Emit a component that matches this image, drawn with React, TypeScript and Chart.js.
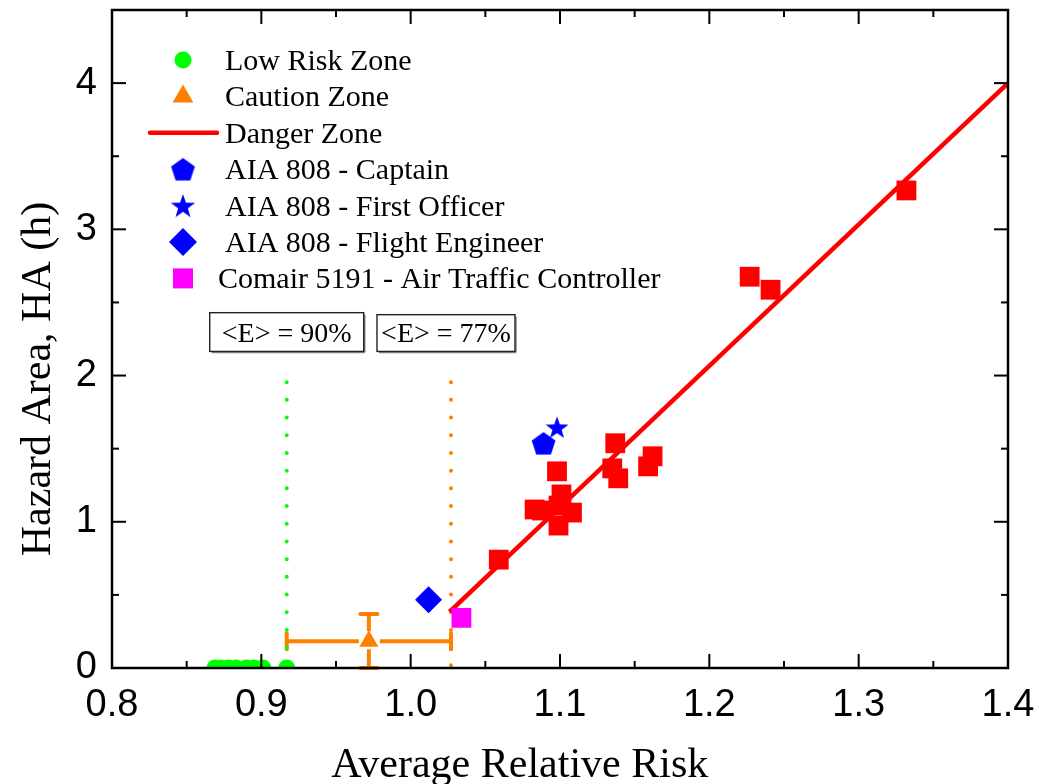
import React, { useEffect, useRef } from 'react';
import { Chart, registerables } from 'chart.js';

Chart.register(...registerables);

// ---------------- data ----------------
const lowRiskX = [0.869, 0.873, 0.878, 0.883, 0.89, 0.895, 0.901, 0.917];
const lowRiskY = [0, 0, 0, 0, 0, 0, 0, 0];

const cautionX = [0.972];
const cautionY = [0.183];
const cautionXLow = [0.917];
const cautionXHigh = [1.027];
const cautionYLow = [0];
const cautionYHigh = [0.37];

const dangerX = [1.059, 1.083, 1.088, 1.098, 1.099, 1.099, 1.101, 1.108, 1.135, 1.137, 1.139, 1.159, 1.162, 1.227, 1.241, 1.332];
const dangerY = [0.741, 1.084, 1.077, 1.345, 1.111, 0.974, 1.187, 1.063, 1.365, 1.537, 1.297, 1.379, 1.448, 2.676, 2.587, 3.266];

const dangerFitX = [1.026, 1.4];
const dangerFitY = [0.384, 4.0];

const captainX = [1.089];
const captainY = [1.537];
const firstOfficerX = [1.098];
const firstOfficerY = [1.647];
const flightEngineerX = [1.012];
const flightEngineerY = [0.467];
const atcX = [1.034];
const atcY = [0.343];

const thresholdX = [0.917, 1.027];
const thresholdTop = [1.955, 1.955];
const thresholdLabels = ['<E> = 90%', '<E> = 77%'];

const xTicks = [0.8, 0.9, 1.0, 1.1, 1.2, 1.3, 1.4];
const xMinorTicks = [0.85, 0.95, 1.05, 1.15, 1.25, 1.35];
const yTicks = [0, 1, 2, 3, 4];
const yMinorTicks = [0.5, 1.5, 2.5, 3.5];

const legendLabels = [
  'Low Risk Zone',
  'Caution Zone',
  'Danger Zone',
  'AIA 808 - Captain',
  'AIA 808 - First Officer',
  'AIA 808 - Flight Engineer',
  'Comair 5191 - Air Traffic Controller',
];
const xTitle = 'Average Relative Risk';
const yTitle = 'Hazard Area, HA (h)';

// ---------------- styles ----------------
const GREEN = '#00FF00';
const ORANGE = '#FF7F00';
const RED = '#FF0000';
const BLUE = '#0000FF';
const MAGENTA = '#FF00FF';
const SERIF = '"Liberation Serif", "Times New Roman", serif';
const SANS = '"Liberation Sans", Arial, sans-serif';

const pts = (xs: number[], ys: number[]) => xs.map((x, i) => ({ x, y: ys[i] }));

function makeStarPoly(R: number, inner: number, n: number, color: string): HTMLCanvasElement {
  const size = Math.ceil(2 * R + 4);
  const c = document.createElement('canvas');
  c.width = size;
  c.height = size;
  const g = c.getContext('2d')!;
  const cx = size / 2;
  const cy = size / 2 + 0.0955 * R;
  g.fillStyle = color;
  g.beginPath();
  const steps = inner > 0 ? n * 2 : n;
  for (let k = 0; k < steps; k++) {
    const r = inner > 0 && k % 2 === 1 ? inner : R;
    const ang = -Math.PI / 2 + (k * 2 * Math.PI) / steps;
    const x = cx + r * Math.cos(ang);
    const y = cy + r * Math.sin(ang);
    if (k === 0) g.moveTo(x, y);
    else g.lineTo(x, y);
  }
  g.closePath();
  g.fill();
  return c;
}

function line(ctx: CanvasRenderingContext2D, x1: number, y1: number, x2: number, y2: number) {
  ctx.beginPath();
  ctx.moveTo(x1, y1);
  ctx.lineTo(x2, y2);
  ctx.stroke();
}

export default function App() {
  const ref = useRef<HTMLCanvasElement>(null);

  useEffect(() => {
    const canvas = ref.current!;
    const pentagon = makeStarPoly(12.5, 0, 5, BLUE);
    const starPlot = makeStarPoly(12, 4.8, 5, BLUE);
    const starLegend = makeStarPoly(12.8, 5.1, 5, BLUE);

    const decor = {
      id: 'decor',
      beforeDatasetsDraw(chart: any) {
        const { ctx, scales } = chart;
        const xs = scales.x;
        const ys = scales.y;
        ctx.save();
        ctx.strokeStyle = ORANGE;
        ctx.lineWidth = 4;
        for (let i = 0; i < cautionX.length; i++) {
          const px = xs.getPixelForValue(cautionX[i]);
          const py = ys.getPixelForValue(cautionY[i]);
          const xl = xs.getPixelForValue(cautionXLow[i]);
          const xh = xs.getPixelForValue(cautionXHigh[i]);
          const yl = ys.getPixelForValue(cautionYLow[i]);
          const yh = ys.getPixelForValue(cautionYHigh[i]);
          ctx.lineCap = 'butt';
          line(ctx, xl, py, px - 10, py);
          line(ctx, px + 11, py, xh, py);
          line(ctx, px, yh, px, py - 10);
          line(ctx, px, py + 8, px, yl);
          ctx.lineCap = 'round';
          line(ctx, xl, py - 8, xl, py + 8);
          line(ctx, xh, py - 8, xh, py + 8);
          line(ctx, px - 8.5, yh, px + 8.5, yh);
          line(ctx, px - 8.5, yl, px + 8.5, yl);
        }
        ctx.restore();
      },
      afterDatasetsDraw(chart: any) {
        const { ctx, chartArea: a, scales } = chart;
        const xs = scales.x;
        const ys = scales.y;
        ctx.save();
        // frame
        ctx.strokeStyle = '#000';
        ctx.lineWidth = 2.5;
        ctx.lineJoin = 'miter';
        ctx.strokeRect(a.left, a.top, a.right - a.left, a.bottom - a.top);
        ctx.lineWidth = 2;
        const major = 14;
        const minor = 7;
        for (const v of xTicks) {
          const p = xs.getPixelForValue(v);
          line(ctx, p, a.bottom, p, a.bottom - major);
          line(ctx, p, a.top, p, a.top + major);
        }
        for (const v of xMinorTicks) {
          const p = xs.getPixelForValue(v);
          line(ctx, p, a.bottom, p, a.bottom - minor);
          line(ctx, p, a.top, p, a.top + minor);
        }
        for (const v of yTicks) {
          const p = ys.getPixelForValue(v);
          line(ctx, a.left, p, a.left + major, p);
          line(ctx, a.right, p, a.right - major, p);
        }
        for (const v of yMinorTicks) {
          const p = ys.getPixelForValue(v);
          line(ctx, a.left, p, a.left + minor, p);
          line(ctx, a.right, p, a.right - minor, p);
        }

        // annotation boxes
        const boxW = [154, 138];
        const boxDx = [0, -5];
        ctx.font = `28px ${SERIF}`;
        ctx.textAlign = 'center';
        ctx.textBaseline = 'alphabetic';
        for (let i = 0; i < thresholdX.length; i++) {
          const cx = xs.getPixelForValue(thresholdX[i]) + boxDx[i];
          const top = ys.getPixelForValue(2.43) + (i === 1 ? 2 : 0);
          const bottom = ys.getPixelForValue(2.165);
          const left = cx - boxW[i] / 2;
          ctx.fillStyle = '#fff';
          ctx.fillRect(left, top, boxW[i], bottom - top);
          ctx.strokeStyle = '#888';
          ctx.lineWidth = 1.5;
          line(ctx, left + 2, bottom + 1, left + boxW[i] + 1, bottom + 1);
          line(ctx, left + boxW[i] + 1, top + 2, left + boxW[i] + 1, bottom + 1);
          ctx.strokeStyle = '#222';
          ctx.lineWidth = 1.4;
          ctx.strokeRect(left, top, boxW[i], bottom - top);
          ctx.fillStyle = '#000';
          ctx.fillText(thresholdLabels[i], cx, bottom - 9);
        }

        // legend
        const rowY = (i: number) => a.top + 50 + i * 36.4;
        const mx = a.left + 71;
        ctx.font = `30px ${SERIF}`;
        ctx.textAlign = 'left';
        for (let i = 0; i < legendLabels.length; i++) {
          const y = rowY(i);
          if (i === 0) {
            ctx.fillStyle = GREEN;
            ctx.beginPath();
            ctx.arc(mx, y, 8.5, 0, Math.PI * 2);
            ctx.fill();
          } else if (i === 1) {
            const r = 12;
            ctx.fillStyle = ORANGE;
            ctx.beginPath();
            ctx.moveTo(mx, y - r);
            ctx.lineTo(mx + 0.866 * r, y + r / 2);
            ctx.lineTo(mx - 0.866 * r, y + r / 2);
            ctx.closePath();
            ctx.fill();
          } else if (i === 2) {
            ctx.strokeStyle = RED;
            ctx.lineWidth = 4.5;
            ctx.lineCap = 'round';
            line(ctx, a.left + 38, y, a.left + 105, y);
            ctx.lineCap = 'butt';
          } else if (i === 3) {
            ctx.drawImage(pentagon, mx - pentagon.width / 2, y - pentagon.height / 2);
          } else if (i === 4) {
            ctx.drawImage(starLegend, mx - starLegend.width / 2, y - starLegend.height / 2);
          } else if (i === 5) {
            const r = 14;
            ctx.fillStyle = BLUE;
            ctx.beginPath();
            ctx.moveTo(mx - r, y);
            ctx.lineTo(mx, y - r);
            ctx.lineTo(mx + r, y);
            ctx.lineTo(mx, y + r);
            ctx.closePath();
            ctx.fill();
          } else {
            ctx.fillStyle = MAGENTA;
            ctx.fillRect(mx - 10, y - 10, 20, 20);
          }
          ctx.fillStyle = '#000';
          ctx.fillText(legendLabels[i], i === 6 ? a.left + 106 : a.left + 113, y + 10);
        }

        // axis titles
        ctx.font = `42px ${SERIF}`;
        ctx.textAlign = 'center';
        ctx.textBaseline = 'alphabetic';
        ctx.fillStyle = '#000';
        ctx.fillText(xTitle, a.left + (a.right - a.left) * 0.455, a.bottom + 109);
        ctx.translate(a.left - 62, (a.top + a.bottom) / 2 + 40);
        ctx.rotate(-Math.PI / 2);
        ctx.fillText(yTitle, 0, 0);
        ctx.restore();
      },
    };

    const markerBase = { showLine: false, pointBorderWidth: 0, pointHoverRadius: 0 };

    const chart = new Chart(canvas, {
      type: 'scatter',
      data: {
        datasets: [
          { ...markerBase, label: 'ATC', data: pts(atcX, atcY), pointStyle: 'rect', pointRadius: 14, backgroundColor: MAGENTA, borderColor: MAGENTA },
          { ...markerBase, label: 'FE', data: pts(flightEngineerX, flightEngineerY), pointStyle: 'rectRot', pointRadius: 13.5, backgroundColor: BLUE, borderColor: BLUE },
          { ...markerBase, label: 'FO', data: pts(firstOfficerX, firstOfficerY), pointStyle: starPlot, pointRadius: 12, backgroundColor: BLUE, borderColor: BLUE },
          { ...markerBase, label: 'Captain', data: pts(captainX, captainY), pointStyle: pentagon, pointRadius: 12, backgroundColor: BLUE, borderColor: BLUE },
          { ...markerBase, label: 'Danger', data: pts(dangerX, dangerY), pointStyle: 'rect', pointRadius: 14, backgroundColor: RED, borderColor: RED },
          { ...markerBase, label: 'Caution', data: pts(cautionX, cautionY), pointStyle: 'triangle', pointRadius: 11, backgroundColor: ORANGE, borderColor: ORANGE },
          { ...markerBase, label: 'Low', data: pts(lowRiskX, lowRiskY), pointStyle: 'circle', pointRadius: 8.5, backgroundColor: GREEN, borderColor: GREEN, clip: 0 },
          { label: 'Fit', data: pts(dangerFitX, dangerFitY), showLine: true, borderColor: RED, borderWidth: 4.5, pointRadius: 0, borderCapStyle: 'butt' },
          { label: 'T90', data: [{ x: thresholdX[0], y: thresholdTop[0] }, { x: thresholdX[0], y: 0 }], showLine: true, borderColor: GREEN, borderWidth: 4, borderDash: [0, 17.7], borderCapStyle: 'round', pointRadius: 0 },
          { label: 'T77', data: [{ x: thresholdX[1], y: thresholdTop[1] }, { x: thresholdX[1], y: 0 }], showLine: true, borderColor: ORANGE, borderWidth: 4, borderDash: [0, 17.7], borderCapStyle: 'round', pointRadius: 0 },
        ] as any,
      },
      options: {
        animation: false,
        responsive: false,
        devicePixelRatio: 1,
        events: [],
        layout: { autoPadding: false, padding: { top: 10, right: 31, left: 0, bottom: 0 } },
        plugins: { legend: { display: false }, tooltip: { enabled: false }, title: { display: false } },
        scales: {
          x: {
            type: 'linear',
            min: 0.8,
            max: 1.4,
            grid: { display: false },
            border: { display: false },
            afterBuildTicks: (s: any) => {
              s.ticks = xTicks.map((v) => ({ value: v }));
            },
            afterFit: (s: any) => {
              s.height = 116;
              s.paddingLeft = 0;
              s.paddingRight = 0;
            },
            ticks: {
              callback: (v: any) => Number(v).toFixed(1),
              font: { family: SANS, size: 38 },
              color: '#000',
              padding: 7,
              maxRotation: 0,
              autoSkip: false,
            },
          },
          y: {
            type: 'linear',
            min: 0,
            max: 4.5,
            grid: { display: false },
            border: { display: false },
            afterBuildTicks: (s: any) => {
              s.ticks = yTicks.map((v) => ({ value: v }));
            },
            afterFit: (s: any) => {
              s.width = 112;
              s.paddingTop = 0;
              s.paddingBottom = 0;
            },
            ticks: {
              callback: (v: any) => String(v),
              font: { family: SANS, size: 38 },
              color: '#000',
              padding: 7,
              autoSkip: false,
            },
          },
        },
      } as any,
      plugins: [decor],
    });

    return () => chart.destroy();
  }, []);

  return (
    <div style={{ position: 'absolute', left: 0, top: 0, width: 1039, height: 784, background: '#fff' }}>
      <canvas ref={ref} width={1039} height={784} style={{ display: 'block', width: 1039, height: 784 }} />
    </div>
  );
}
